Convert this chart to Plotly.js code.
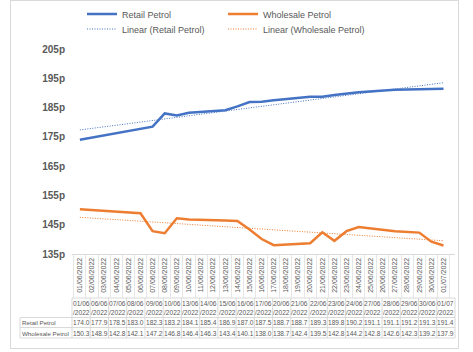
<!DOCTYPE html>
<html><head><meta charset="utf-8">
<script src="https://cdn.plot.ly/plotly-3.0.1.min.js"></script>
<style>
html,body{margin:0;padding:0;background:#fff;}
#frame{position:absolute;left:10px;top:0px;width:447px;height:347px;border:1px solid #d9d9d9;}
#chart{position:absolute;left:0;top:0;width:473px;height:352px;}
</style></head>
<body>
<div id="frame"></div>
<div id="chart"></div>
<script>
// ---- data ----
const dates = ['2022-06-01','2022-06-06','2022-06-07','2022-06-08','2022-06-09','2022-06-10',
  '2022-06-13','2022-06-14','2022-06-15','2022-06-16','2022-06-17','2022-06-20','2022-06-21',
  '2022-06-22','2022-06-23','2022-06-24','2022-06-27','2022-06-28','2022-06-29','2022-06-30','2022-07-01'];
const retailPetrol = [174.0,177.9,178.5,183.0,182.3,183.2,184.1,185.4,186.9,187.0,187.5,188.7,188.7,
  189.3,189.8,190.2,191.1,191.1,191.2,191.3,191.4];
const wholesalePetrol = [150.3,148.9,142.8,142.1,147.2,146.8,146.4,146.3,143.4,140.1,138.0,138.7,142.4,
  139.5,142.8,144.2,142.8,142.6,142.3,139.2,137.9];
const seriesNames = ['Retail Petrol','Wholesale Petrol'];
const yTicks = [135,145,155,165,175,185,195,205];

// ---- helpers ----
const DAY = 86400000;
const t = d => Date.parse(d + 'T00:00:00Z');
function linearFit(xs, ys){
  const x = xs.map(d => (t(d) - t(xs[0])) / DAY);
  const n = x.length;
  const mx = x.reduce((a,b)=>a+b,0)/n, my = ys.reduce((a,b)=>a+b,0)/n;
  let sxy=0,sxx=0;
  for(let i=0;i<n;i++){sxy+=(x[i]-mx)*(ys[i]-my);sxx+=(x[i]-mx)**2;}
  const b = sxy/sxx, a = my - b*mx;
  return [a + b*x[0], a + b*x[n-1]];
}
const fmt = d => { const [y,m,dd] = d.split('-'); return [dd + '/' + m, '/' + y]; };

const BLUE = '#4472C4', ORANGE = '#ED7D31', GREY = '#595959', LINE = '#d9d9d9';
const FONT = 'Liberation Sans, Arial, sans-serif';

const ends = [dates[0], dates[dates.length-1]];
const traces = [
  {x: dates, y: retailPetrol, name: seriesNames[0], type:'scatter', mode:'lines',
   line:{color:BLUE, width:2.5}, legend:'legend'},
  {x: dates, y: wholesalePetrol, name: seriesNames[1], type:'scatter', mode:'lines',
   line:{color:ORANGE, width:2.5}, legend:'legend2'},
  {x: ends, y: linearFit(dates, retailPetrol), name: 'Linear (' + seriesNames[0] + ')', type:'scatter', mode:'lines',
   line:{color:BLUE, width:1, dash:'1px,1.5px'}, legend:'legend3'},
  {x: ends, y: linearFit(dates, wholesalePetrol), name: 'Linear (' + seriesNames[1] + ')', type:'scatter', mode:'lines',
   line:{color:ORANGE, width:1, dash:'1px,1.5px'}, legend:'legend4'}
];

// ---- geometry (pixels -> paper) ----
const W = 473, H = 352, L = 72, R = 455, T = 49, B = 254;
const px = v => (v - L) / (R - L);
const py = v => (B - v) / (B - T);

const annotations = [];
const shapes = [];
const n = dates.length;
const tf = {family: FONT, size: 6.6, color: GREY};
const lf = {family: FONT, size: 6.2, color: GREY};
dates.forEach((d, i) => {
  const xc = (i + 0.5) / n;
  const [l1, l2] = fmt(d);
  annotations.push({xref:'paper', yref:'paper', x:xc, y:py(303.5), text:l1, showarrow:false, font:tf, xanchor:'center', yanchor:'middle'});
  annotations.push({xref:'paper', yref:'paper', x:xc, y:py(312), text:l2, showarrow:false, font:tf, xanchor:'center', yanchor:'middle'});
  annotations.push({xref:'paper', yref:'paper', x:xc, y:py(322.5), text:retailPetrol[i].toFixed(1), showarrow:false, font:tf, xanchor:'center', yanchor:'middle'});
  annotations.push({xref:'paper', yref:'paper', x:xc, y:py(333), text:wholesalePetrol[i].toFixed(1), showarrow:false, font:tf, xanchor:'center', yanchor:'middle'});
});
annotations.push({xref:'paper', yref:'paper', x:px(20), y:py(322.5), text:seriesNames[0], showarrow:false, font:lf, xanchor:'left', yanchor:'middle'});
annotations.push({xref:'paper', yref:'paper', x:px(20), y:py(333), text:seriesNames[1], showarrow:false, font:lf, xanchor:'left', yanchor:'middle'});

const ln = (x0,y0,x1,y1) => ({type:'line', xref:'paper', yref:'paper', x0:px(x0), y0:py(y0), x1:px(x1), y1:py(y1), line:{color:LINE, width:1}, layer:'below'});
shapes.push(ln(L, 298, R, 298));
shapes.push(ln(20, 317.5, R, 317.5));
shapes.push(ln(20, 327.5, R, 327.5));
shapes.push(ln(20, 338, R, 338));
shapes.push(ln(20, 317.5, 20, 338));
for (let i = 0; i <= n; i++) {
  const xx = L + i * (R - L) / n;
  shapes.push(ln(xx, 298, xx, 338));
}

const startRange = t(dates[0]) - 0.65 * DAY;
const endRange = t(dates[dates.length-1]) + 0.95 * DAY;
const legFont = {family:FONT, size:9, color:GREY};
const leg = (x, y) => ({orientation:'v', x: px(x), xanchor:'left', y: py(y), yanchor:'middle',
    font:legFont, bgcolor:'rgba(0,0,0,0)', borderwidth:0});

const layout = {
  width: W, height: H,
  margin: {l: L, r: W - R, t: T, b: H - B, pad: 0, autoexpand: false},
  paper_bgcolor: 'rgba(0,0,0,0)', plot_bgcolor: 'rgba(0,0,0,0)',
  font: {family: FONT, color: GREY},
  showlegend: true,
  legend: leg(82, 14),
  legend2: leg(223, 14),
  legend3: leg(82, 29),
  legend4: leg(223, 29),
  xaxis: {type:'date', range:[startRange, endRange], tickmode:'linear', tick0: t(dates[0]), dtick: DAY,
    tickformat:'%d/%m/%Y', tickangle:-90, ticks:'', showgrid:false, zeroline:false,
    showline:true, linecolor:LINE, linewidth:1, automargin:false,
    tickfont:{family:FONT, size:7, color:GREY},
    minor:{ticks:'outside', ticklen:44, tickcolor:'#e6e6e6', tickwidth:1, tick0: t(dates[0]) - 0.5*DAY, dtick: DAY, showgrid:false}},
  yaxis: {range:[135, 205], tickmode:'array', tickvals: yTicks, ticktext: yTicks.map(v => v + 'p'),
    showgrid:false, zeroline:false, showline:false, ticks:'', automargin:false,
    tickfont:{family:FONT, size:10, color:GREY, weight:'bold'}, ticklabelstandoff: 6},
  annotations, shapes
};
Plotly.newPlot('chart', traces, layout, {displayModeBar:false, staticPlot:true});
</script>
</body></html>
